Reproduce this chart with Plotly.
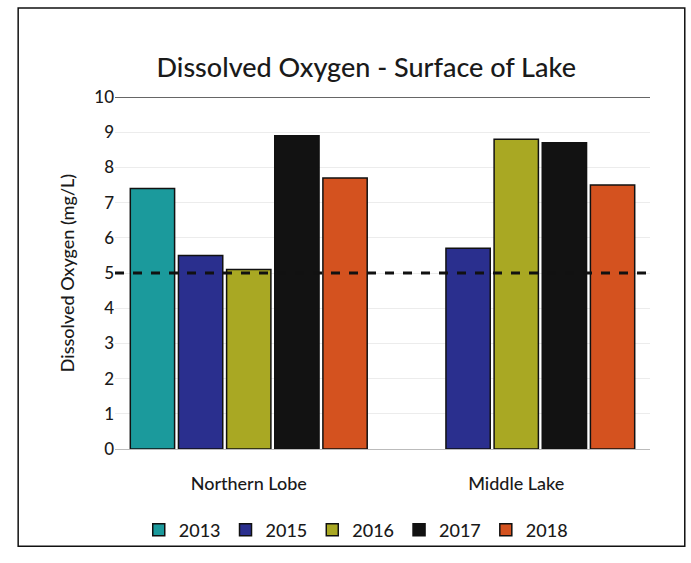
import plotly.graph_objects as go

categories = ["Northern Lobe", "Middle Lake"]
years = ["2013", "2015", "2016", "2017", "2018"]
values_2013 = [7.4, None]
values_2015 = [5.5, 5.7]
values_2016 = [5.1, 8.8]
values_2017 = [8.9, 8.7]
values_2018 = [7.7, 7.5]
threshold = 5
y_ticks = list(range(0, 11))

series = [values_2013, values_2015, values_2016, values_2017, values_2018]
colors = ["#1b9a9c", "#2a2f8e", "#a9a823", "#121212", "#d4521f"]

fig = go.Figure()
for name, vals, c in zip(years, series, colors):
    fig.add_trace(go.Bar(
        x=categories, y=vals, name=name,
        marker=dict(color=c, line=dict(color="#111111", width=1.5)),
    ))

fig.add_shape(type="line", xref="paper", yref="y", x0=0, x1=1,
              y0=threshold, y1=threshold,
              line=dict(color="#111111", width=3, dash="dash"))
fig.add_shape(type="line", xref="paper", yref="y", x0=0, x1=1,
              y0=10, y1=10, line=dict(color="#333333", width=1.5))
# outer chart border
fig.add_shape(type="rect", xref="paper", yref="paper",
              x0=-0.181, x1=1.065, y0=-0.276, y1=1.253,
              line=dict(color="#111111", width=1.5))

fig.update_layout(
    width=691, height=563,
    margin=dict(l=115, r=41, t=97, b=114),
    paper_bgcolor="white", plot_bgcolor="white",
    font=dict(family="Lato, Carlito, sans-serif", color="#1a1a1a"),
    title=dict(text="Dissolved Oxygen - Surface of Lake",
               x=0.53, xanchor="center", y=0.88, yanchor="middle",
               font=dict(size=27, color="#1a1a1a", weight=500)),
    barmode="group", bargap=0.1, bargroupgap=0.08,
    showlegend=True,
    legend=dict(orientation="h", x=0.45, xanchor="center",
                y=-0.23, yanchor="middle", bgcolor="rgba(0,0,0,0)",
                font=dict(size=18, weight=500), itemwidth=30,
                tracegroupgap=0, traceorder="normal"),
    xaxis=dict(tickfont=dict(size=18, weight=500), showline=True,
               linecolor="#bbbbbb", ticks="", ticklabelstandoff=18),
    yaxis=dict(range=[0, 10], tickvals=y_ticks,
               tickfont=dict(size=17, weight=500),
               showgrid=True, gridcolor="#ececec", zeroline=False,
               title=dict(text="Dissolved Oxygen (mg/L)",
                          font=dict(size=18, weight=500),
                          standoff=14),
               ticks=""),
)

fig.write_html("out.html")
